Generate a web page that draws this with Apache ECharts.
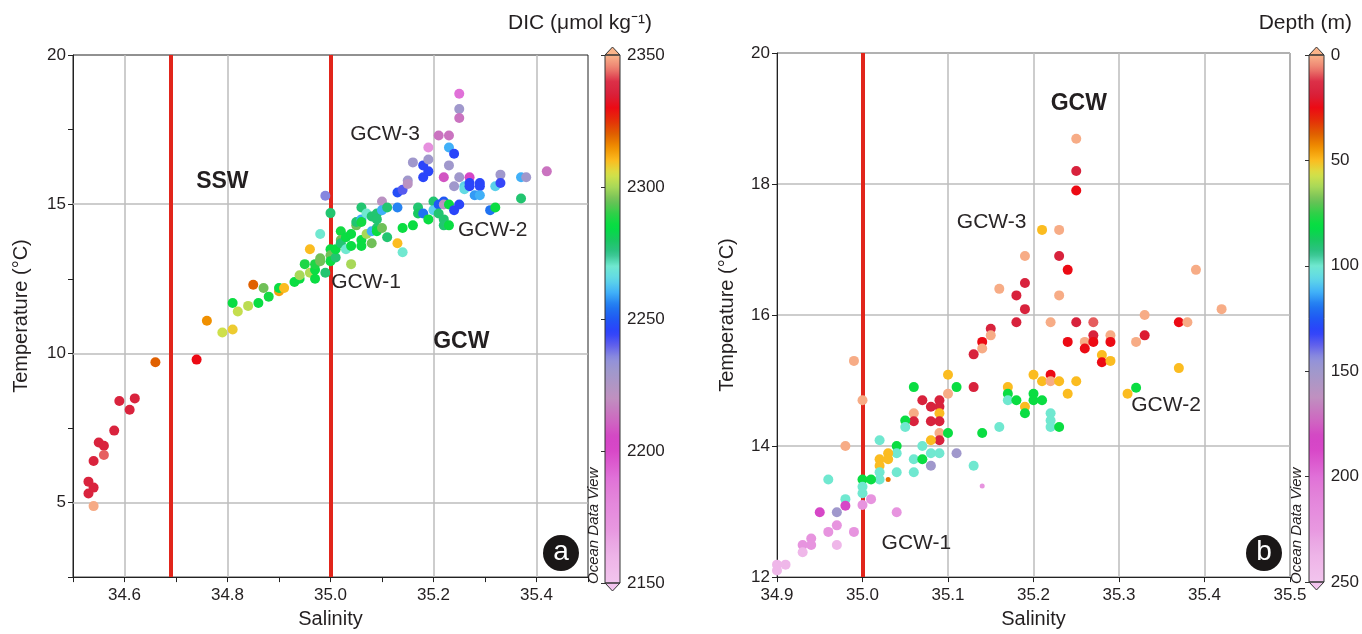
<!DOCTYPE html>
<html>
<head>
<meta charset="utf-8">
<script src="https://cdn.jsdelivr.net/npm/echarts@6/dist/echarts.min.js"></script>
<style>
html, body { margin: 0; padding: 0; background: #fff; }
#main { width: 1362px; height: 634px; }
</style>
</head>
<body>
<div id="main"></div>
<script>
// panel a : salinity / temperature / DIC
var salA = [34.53, 34.53, 34.54, 34.54, 34.54, 34.55, 34.56, 34.56, 34.58, 34.59, 34.61, 34.62, 34.66, 34.74, 34.76, 34.79, 34.81, 34.81, 34.82, 34.84,
    34.85, 34.86, 34.87, 34.88, 34.90, 34.90, 34.91, 34.93, 34.94, 34.94, 34.95, 34.96, 34.96, 34.97, 34.97, 34.97, 34.98, 34.98, 34.98, 34.99,
    34.99, 35.00, 35.00, 35.00, 35.00, 35.01, 35.01, 35.02, 35.02, 35.02, 35.03, 35.03, 35.04, 35.04, 35.04, 35.05, 35.05, 35.06, 35.06, 35.06,
    35.06, 35.06, 35.07, 35.07, 35.08, 35.08, 35.08, 35.09, 35.09, 35.09, 35.09, 35.10, 35.10, 35.10, 35.11, 35.11, 35.13, 35.13, 35.13, 35.14,
    35.14, 35.14, 35.15, 35.15, 35.16, 35.16, 35.17, 35.17, 35.18, 35.18, 35.18, 35.19, 35.19, 35.19, 35.19, 35.20, 35.20, 35.21, 35.21, 35.21,
    35.22, 35.22, 35.22, 35.22, 35.22, 35.23, 35.23, 35.23, 35.23, 35.23, 35.24, 35.24, 35.24, 35.25, 35.25, 35.25, 35.25, 35.25, 35.26, 35.26,
    35.27, 35.27, 35.27, 35.28, 35.29, 35.29, 35.29, 35.31, 35.32, 35.32, 35.33, 35.33, 35.37, 35.37, 35.38, 35.42];
var tempA = [5.70, 5.30, 5.50, 6.39, 4.88, 7.01, 6.90, 6.59, 7.41, 8.40, 8.11, 8.49, 9.70, 9.79, 11.09, 10.70, 10.80, 11.69, 11.40, 11.59,
    12.30, 11.69, 12.19, 11.90, 12.08, 12.19, 12.19, 12.39, 12.50, 12.62, 12.99, 13.49, 12.70, 12.50, 12.80, 12.99, 14.00, 13.09, 13.19, 12.70,
    15.28, 14.70, 13.49, 13.29, 13.09, 13.21, 13.49, 14.09, 13.80, 13.69, 13.49, 13.89, 14.00, 13.60, 12.99, 14.29, 14.40, 14.89, 14.49, 14.40,
    13.80, 13.60, 14.69, 14.00, 14.59, 14.09, 13.69, 14.69, 14.49, 14.20, 14.09, 15.09, 14.80, 14.20, 14.89, 13.89, 14.89, 15.39, 13.69, 13.39,
    14.20, 15.48, 15.79, 15.68, 16.40, 14.29, 14.89, 14.69, 16.30, 15.90, 14.69, 16.10, 16.50, 16.90, 14.49, 15.09, 14.80, 17.30, 14.99, 14.69,
    15.90, 15.09, 14.99, 14.49, 14.29, 17.30, 16.90, 16.30, 14.29, 14.99, 16.69, 15.60, 14.80, 18.70, 18.19, 17.89, 15.90, 14.99, 15.60, 15.50,
    15.90, 15.71, 15.60, 15.30, 15.71, 15.60, 15.30, 14.80, 15.60, 14.89, 15.99, 15.71, 15.90, 15.19, 15.90, 16.10];
var dicA = [2336, 2336, 2336, 2336, 2349, 2336, 2336, 2343, 2336, 2336, 2336, 2336, 2320, 2330, 2315, 2304, 2308, 2286, 2303, 2302,
    2320, 2286, 2295, 2287, 2313, 2286, 2310, 2286, 2286, 2300, 2288, 2310, 2301, 2286, 2286, 2288, 2270, 2295, 2295, 2278,
    2236, 2278, 2286, 2295, 2286, 2278, 2286, 2287, 2295, 2278, 2270, 2286, 2286, 2286, 2300, 2295, 2278, 2278, 2260, 2287,
    2286, 2286, 2270, 2300, 2278, 2260, 2295, 2278, 2278, 2278, 2286, 2222, 2260, 2295, 2278, 2278, 2256, 2248, 2310, 2270,
    2286, 2241, 2230, 2222, 2230, 2286, 2278, 2280, 2246, 2246, 2254, 2246, 2230, 2175, 2286, 2278, 2264, 2214, 2250, 2278,
    2208, 2250, 2222, 2278, 2278, 2214, 2260, 2230, 2286, 2286, 2246, 2230, 2246, 2190, 2230, 2214, 2230, 2246, 2264, 2266,
    2203, 2246, 2246, 2258, 2246, 2246, 2260, 2254, 2264, 2286, 2230, 2244, 2260, 2278, 2230, 2214];

// panel b : salinity / temperature / depth
var salB = [35.25, 35.25, 35.25, 35.21, 35.23, 35.19, 35.23, 35.24, 35.39, 35.16, 35.19, 35.18, 35.23, 35.19, 35.42, 35.18, 35.22, 35.25, 35.27, 35.33,
    35.37, 35.38, 35.15, 35.15, 35.14, 35.14, 35.13, 35.24, 35.26, 35.27, 35.27, 35.26, 35.29, 35.29, 35.32, 35.33, 35.28, 35.28, 35.29, 35.37,
    34.99, 35.00, 35.10, 35.10, 35.13, 35.06, 35.11, 35.07, 35.08, 35.09, 35.09, 35.09, 35.06, 35.06, 35.08, 35.09, 35.05, 35.05, 35.09, 35.09,
    35.08, 35.10, 35.14, 35.16, 35.13, 35.11, 35.17, 35.17, 35.17, 35.18, 35.19, 35.19, 35.20, 35.20, 35.20, 35.21, 35.21, 35.22, 35.22, 35.23,
    35.24, 35.25, 35.22, 35.22, 35.22, 35.23, 35.31, 35.32, 34.98, 35.02, 35.04, 35.04, 35.03, 35.03, 35.02, 35.02, 35.02, 35.02, 35.04, 35.06,
    35.06, 35.07, 35.07, 35.08, 35.08, 35.09, 35.00, 35.01, 35.00, 35.00, 34.96, 34.98, 34.98, 35.00, 35.01, 34.95, 34.97, 35.04, 34.97, 34.96,
    34.99, 34.94, 34.94, 34.93, 34.93, 34.97, 34.91, 34.90, 34.90];
var tempB = [18.69, 18.20, 17.90, 17.30, 17.30, 16.90, 16.90, 16.69, 16.69, 16.40, 16.49, 16.30, 16.30, 16.09, 16.09, 15.89, 15.89, 15.89, 15.89, 16.00,
    15.89, 15.89, 15.79, 15.69, 15.59, 15.49, 15.40, 15.59, 15.59, 15.69, 15.59, 15.49, 15.69, 15.59, 15.59, 15.69, 15.39, 15.28, 15.30, 15.19,
    15.30, 14.70, 15.09, 14.80, 14.90, 14.90, 14.90, 14.70, 14.60, 14.70, 14.60, 14.50, 14.50, 14.38, 14.38, 14.38, 14.39, 14.29, 14.20, 14.09,
    14.09, 14.20, 14.20, 14.29, 13.70, 13.89, 14.90, 14.80, 14.70, 14.70, 14.60, 14.50, 15.09, 14.80, 14.70, 14.99, 14.70, 15.09, 14.99, 14.99,
    14.80, 14.99, 14.50, 14.39, 14.29, 14.29, 14.80, 14.89, 14.00, 14.09, 14.00, 13.89, 13.89, 13.80, 13.80, 13.70, 13.60, 13.49, 13.60, 13.80,
    13.60, 14.00, 13.80, 13.89, 13.70, 13.89, 13.49, 13.49, 13.38, 13.28, 13.49, 13.19, 13.09, 13.10, 13.19, 12.99, 12.99, 12.99, 12.79, 12.69,
    12.69, 12.59, 12.49, 12.49, 12.38, 12.49, 12.19, 12.19, 12.10];
var depthB = [1, 18, 25, 50, 1, 1, 18, 25, 1, 1, 18, 18, 1, 18, 1, 18, 1, 18, 9, 1,
    25, 1, 18, 1, 25, 1, 18, 25, 1, 18, 25, 25, 1, 25, 1, 20, 50, 25, 50, 50,
    1, 1, 50, 1, 18, 80, 80, 18, 18, 18, 18, 50, 1, 18, 18, 18, 80, 100, 1, 18,
    50, 80, 80, 100, 100, 150, 50, 80, 100, 80, 50, 80, 50, 80, 80, 50, 80, 25, 1, 50,
    50, 50, 100, 100, 100, 80, 50, 80, 1, 100, 80, 100, 50, 50, 50, 50, 100, 100, 100, 100,
    100, 100, 80, 100, 150, 100, 80, 80, 100, 100, 100, 100, 185, 222, 222, 185, 150, 222, 222, 222,
    222, 222, 222, 222, 240, 240, 240, 240, 240];
// two small dots in panel b
var salBsmall = [35.14, 35.03];
var tempBsmall = [13.39, 13.49];
var depthBsmall = [222, 40];

// water mass boundaries
var boundsA = [34.69, 35.0];
var boundsB = [35.0];
var gridXA = [34.6, 34.8, 35.0, 35.2, 35.4];
var gridYA = [5, 10, 15];

// labels: salinity, temperature, text, bold
var notesA = [[34.79, 15.77, 'SSW', 1], [35.254, 10.39, 'GCW', 1], [35.106, 17.36, 'GCW-3', 0], [35.315, 14.12, 'GCW-2', 0], [35.069, 12.37, 'GCW-1', 0]];
var notesB = [[35.253, 19.23, 'GCW', 1], [35.151, 17.41, 'GCW-3', 0], [35.355, 14.63, 'GCW-2', 0], [35.063, 12.51, 'GCW-1', 0]];

// ODV style palette, low DIC -> high DIC (even 5 umol steps, 2150..2350)
var palette = ['#f2c4ee', '#f0bcea', '#eeb4e8', '#eaa8e4', '#e898e0', '#e690de', '#e488dc', '#e27ed8', '#e070d8', '#dc5ccf',
    '#d848c8', '#d445c5', '#d060c2', '#c878c0', '#c090c0', '#b096c4', '#a098cc', '#9090dc', '#6060ec', '#2c40fc',
    '#2058f4', '#2078f0', '#40b0f8', '#60d8e8', '#70e8d0', '#30c088', '#18c860', '#00e040', '#30d048', '#70c058',
    '#a8d858', '#d8e248', '#fbbc20', '#f09000', '#e06000', '#e43008', '#ec0a14', '#d8203a', '#dc3048', '#ec8070', '#f9b48a'];

var FONT = "'Liberation Sans Narrow', 'Liberation Sans', Arial, sans-serif";
var TXT = '#231f20';

var chart = echarts.init(document.getElementById('main'));

function pts(s, t, v) {
    return s.map(function (x, i) { return [x, t[i], v[i]]; });
}
function notes(list) {
    return list.map(function (n) {
        return {
            value: [n[0], n[1]],
            label: n[3] ? {formatter: n[2], color: TXT, fontWeight: 'bold', fontSize: 23, fontFamily: "'Liberation Sans', Arial, sans-serif"}
                        : {formatter: n[2], color: '#2a2627', fontSize: 21}
        };
    });
}
function vline(vals, color, width, z) {
    return {
        silent: true, symbol: 'none', z: z, label: {show: false},
        lineStyle: {color: color, width: width, type: 'solid', opacity: 1},
        data: vals.map(function (v) { return {xAxis: v}; })
    };
}

var axisLbl = {color: TXT, fontSize: 17, fontFamily: FONT};
var nameStyle = {color: TXT, fontSize: 20, fontFamily: FONT};
var blackLine = {show: true, onZero: false, lineStyle: {color: '#222', width: 1}};

function colorbarGraphics(x, top, bottom, cTop, cBot) {
    var w = 15, mid = x + w / 2;
    return [
        {type: 'polygon', z: 100, shape: {points: [[x, top], [x + w, top], [mid, top - 8]]}, style: {fill: cTop, stroke: '#333', lineWidth: 1}},
        {type: 'polygon', z: 100, shape: {points: [[x, bottom], [x + w, bottom], [mid, bottom + 8]]}, style: {fill: cBot, stroke: '#333', lineWidth: 1}},
        {type: 'rect', z: 100, shape: {x: x, y: top, width: w, height: bottom - top}, style: {fill: 'none', stroke: '#333', lineWidth: 1}}
    ];
}
function badge(cx, cy, letter) {
    return [
        {type: 'circle', z: 100, shape: {cx: cx, cy: cy, r: 18}, style: {fill: '#1a1717'}},
        {type: 'text', z: 101, x: cx, y: cy - 1, style: {text: letter, fill: '#fff', font: '28px ' + FONT, textAlign: 'center', textVerticalAlign: 'middle'}}
    ];
}
function odv(x, y) {
    return {type: 'text', z: 100, x: x, y: y, rotation: Math.PI / 2,
        style: {text: 'Ocean Data View', fill: TXT, font: 'italic 15px ' + FONT, textAlign: 'left', textVerticalAlign: 'middle'}};
}

chart.setOption({
    animation: false,
    backgroundColor: '#fff',
    title: [
        {text: 'DIC (\u03bcmol kg\u207b\u00b9)', right: 705, top: 8, textStyle: {color: TXT, fontSize: 21, fontWeight: 'normal', fontFamily: FONT}},
        {text: 'Depth (m)', right: 5, top: 8, textStyle: {color: TXT, fontSize: 21, fontWeight: 'normal', fontFamily: FONT}}
    ],
    grid: [
        {left: 73, top: 55, width: 515, height: 528, show: true, borderColor: '#222', borderWidth: 1},
        {left: 777, top: 53, width: 513, height: 529, show: true, borderColor: '#222', borderWidth: 1},
        {left: 605, top: 55, width: 15, height: 528},
        {left: 1309, top: 55, width: 15, height: 527}
    ],
    xAxis: [
        {gridIndex: 0, type: 'value', min: 34.5, max: 35.5, interval: 0.1,
            axisLine: blackLine, axisTick: {show: true, length: 5, lineStyle: {color: '#222'}},
            axisLabel: Object.assign({margin: 10, formatter: function (v) {
                var k = Math.round(v * 10); return k % 2 === 0 ? (k / 10).toFixed(1) : '';
            }}, axisLbl),
            splitLine: {show: false},
            name: 'Salinity', nameLocation: 'middle', nameGap: 30, nameTextStyle: nameStyle},
        {gridIndex: 1, type: 'value', min: 34.9, max: 35.5, interval: 0.1,
            axisLine: blackLine, axisTick: {show: true, length: 5, lineStyle: {color: '#222'}},
            axisLabel: Object.assign({margin: 10, formatter: function (v) { return v.toFixed(1); }}, axisLbl),
            splitLine: {show: true, lineStyle: {color: '#bdbdbd', width: 1.5}},
            name: 'Salinity', nameLocation: 'middle', nameGap: 30, nameTextStyle: nameStyle},
        {gridIndex: 2, type: 'value', show: false},
        {gridIndex: 3, type: 'value', show: false}
    ],
    yAxis: [
        {gridIndex: 0, type: 'value', min: 2.5, max: 20, interval: 2.5,
            axisLine: blackLine, axisTick: {show: true, length: 5, lineStyle: {color: '#222'}},
            axisLabel: Object.assign({margin: 7, formatter: function (v) { return v % 5 === 0 ? String(v) : ''; }}, axisLbl),
            splitLine: {show: false},
            name: 'Temperature (\u00b0C)', nameLocation: 'middle', nameGap: 42, nameTextStyle: nameStyle},
        {gridIndex: 1, type: 'value', min: 12, max: 20, interval: 2,
            axisLine: blackLine, axisTick: {show: true, length: 5, lineStyle: {color: '#222'}},
            axisLabel: Object.assign({margin: 7}, axisLbl),
            splitLine: {show: true, lineStyle: {color: '#bdbdbd', width: 1.5}},
            name: 'Temperature (\u00b0C)', nameLocation: 'middle', nameGap: 40, nameTextStyle: nameStyle},
        {gridIndex: 2, type: 'value', min: 2150, max: 2350, interval: 50, position: 'right',
            axisLine: {show: false}, axisTick: {show: true, inside: true, length: 4, lineStyle: {color: '#333'}},
            axisLabel: Object.assign({margin: 7, formatter: function (v) { return String(v); }}, axisLbl), splitLine: {show: false}},
        {gridIndex: 3, type: 'value', min: 0, max: 250, interval: 50, position: 'right', inverse: true,
            axisLine: {show: false}, axisTick: {show: true, inside: true, length: 4, lineStyle: {color: '#333'}},
            axisLabel: Object.assign({margin: 7, formatter: function (v) { return String(v); }}, axisLbl), splitLine: {show: false}}
    ],
    visualMap: [
        {type: 'continuous', seriesIndex: 0, dimension: 2, min: 2150, max: 2350,
            left: 605, top: 55, itemWidth: 15, itemHeight: 528, padding: 0,
            calculable: false, text: null, inRange: {color: palette}},
        {type: 'continuous', seriesIndex: [1, 2], dimension: 2, min: 0, max: 250, inverse: true,
            left: 1309, top: 55, itemWidth: 15, itemHeight: 527, padding: 0,
            calculable: false, text: null, inRange: {color: palette.slice().reverse()}}
    ],
    series: [
        {type: 'scatter', xAxisIndex: 0, yAxisIndex: 0, z: 3, symbolSize: 10, itemStyle: {opacity: 1}, data: pts(salA, tempA, dicA)},
        {type: 'scatter', xAxisIndex: 1, yAxisIndex: 1, z: 3, symbolSize: 10, itemStyle: {opacity: 1}, data: pts(salB, tempB, depthB)},
        {type: 'scatter', xAxisIndex: 1, yAxisIndex: 1, z: 3, symbolSize: 5, itemStyle: {opacity: 1}, data: pts(salBsmall, tempBsmall, depthBsmall)},
        {type: 'scatter', xAxisIndex: 0, yAxisIndex: 0, data: [], markLine: (function () {
            var m = vline(gridXA, '#bdbdbd', 1.5, 1);
            m.data = m.data.concat(gridYA.map(function (v) { return {yAxis: v}; }));
            return m;
        })()},
        {type: 'scatter', xAxisIndex: 0, yAxisIndex: 0, data: [], markLine: vline(boundsA, '#e1251b', 4, 2)},
        {type: 'scatter', xAxisIndex: 1, yAxisIndex: 1, data: [], markLine: vline(boundsB, '#e1251b', 4, 2)},
        {type: 'scatter', xAxisIndex: 0, yAxisIndex: 0, z: 4, symbolSize: 0, silent: true, itemStyle: {opacity: 1},
            label: {show: true, position: 'inside', color: TXT, fontFamily: FONT}, data: notes(notesA)},
        {type: 'scatter', xAxisIndex: 1, yAxisIndex: 1, z: 4, symbolSize: 0, silent: true, itemStyle: {opacity: 1},
            label: {show: true, position: 'inside', color: TXT, fontFamily: FONT}, data: notes(notesB)}
    ],
    graphic: [].concat(
        colorbarGraphics(605, 55, 583, palette[palette.length - 1], palette[0]),
        colorbarGraphics(1309, 55, 582, palette[palette.length - 1], palette[0]),
        badge(561, 553, 'a'), badge(1264, 553, 'b'),
        [odv(594, 584), odv(1297, 584)]
    )
});
</script>
</body>
</html>
